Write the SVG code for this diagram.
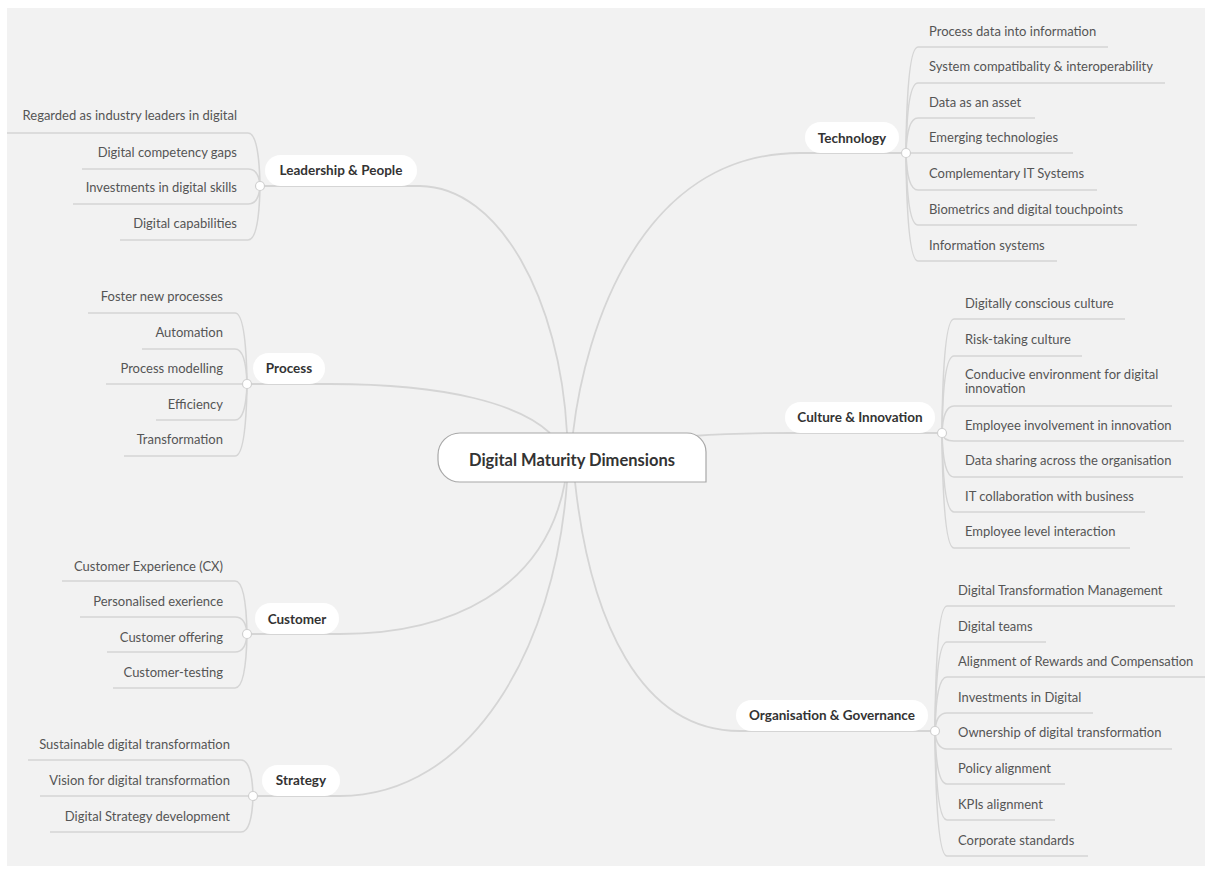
<svg xmlns="http://www.w3.org/2000/svg" width="1205" height="871" viewBox="0 0 1205 871">
<style>
.bg{fill:#f2f2f2}
.ln{fill:none;stroke:#d5d5d5;stroke-width:1.6}
.br{fill:none;stroke:#d5d5d5;stroke-width:1.8}
.jn{fill:#fff;stroke:#d0d0d0;stroke-width:1.2}
.pill{fill:#fff}
.tp{font-family:Lato,"Liberation Sans",sans-serif;font-weight:bold;font-size:13.5px;fill:#333;text-anchor:middle}
.ch{font-family:Lato,"Liberation Sans",sans-serif;font-size:13px;fill:#555}
.l{text-anchor:end}
.c{font-family:Lato,"Liberation Sans",sans-serif;font-weight:bold;font-size:16.5px;fill:#333;text-anchor:middle}
</style>
<rect class="bg" x="7" y="8" width="1198" height="858"/>
<g id="connectors">
<path class="br" d="M260,186 H420 C500,187 560,300 567,433"/>
<path class="br" d="M247,384 H330 C450,384 520,405 550,433"/>
<path class="br" d="M247,634 H340 C450,634 545,590 565,482"/>
<path class="br" d="M253,796 H340 C470,796 555,650 567,482"/>
<path class="br" d="M573,433 C585,330 640,153 800,153 H906"/>
<path class="br" d="M693,436 C720,434 760,433 790,433 H942"/>
<path class="br" d="M575,482 C590,620 640,731 740,731 H935"/>
<path class="ln" d="M7,133 H248 Q259,133 260,186"/>
<path class="ln" d="M82,169 H248 Q259,169 260,186"/>
<path class="ln" d="M73,204 H248 Q259,204 260,186"/>
<path class="ln" d="M120,240 H248 Q259,240 260,186"/>
<path class="ln" d="M88,313 H235 Q246,313 247,384"/>
<path class="ln" d="M142,349 H235 Q246,349 247,384"/>
<path class="ln" d="M106,384 H247"/>
<path class="ln" d="M156,420 H235 Q246,420 247,384"/>
<path class="ln" d="M124,456 H235 Q246,456 247,384"/>
<path class="ln" d="M62,581 H235 Q246,581 247,634"/>
<path class="ln" d="M80,617 H235 Q246,617 247,634"/>
<path class="ln" d="M107,652 H235 Q246,652 247,634"/>
<path class="ln" d="M113,688 H235 Q246,688 247,634"/>
<path class="ln" d="M28,760 H241 Q252,760 253,796"/>
<path class="ln" d="M40,796 H253"/>
<path class="ln" d="M50,832 H241 Q252,832 253,796"/>
<path class="ln" d="M906,153 Q907,47 918,47 H1108"/>
<path class="ln" d="M906,153 Q907,83 918,83 H1165"/>
<path class="ln" d="M906,153 Q907,118 918,118 H1035"/>
<path class="ln" d="M906,153 H1073"/>
<path class="ln" d="M906,153 Q907,190 918,190 H1097"/>
<path class="ln" d="M906,153 Q907,225 918,225 H1137"/>
<path class="ln" d="M906,153 Q907,261 918,261 H1057"/>
<path class="ln" d="M942,433 Q943,319 954,319 H1125"/>
<path class="ln" d="M942,433 Q943,356 954,356 H1082"/>
<path class="ln" d="M942,433 Q943,406 954,406 H1172"/>
<path class="ln" d="M942,433 Q943,441 954,441 H1184"/>
<path class="ln" d="M942,433 Q943,477 954,477 H1183"/>
<path class="ln" d="M942,433 Q943,512 954,512 H1145"/>
<path class="ln" d="M942,433 Q943,548 954,548 H1130"/>
<path class="ln" d="M935,731 Q936,606 947,606 H1175"/>
<path class="ln" d="M935,731 Q936,642 947,642 H1046"/>
<path class="ln" d="M935,731 Q936,677 947,677 H1205"/>
<path class="ln" d="M935,731 Q936,713 947,713 H1093"/>
<path class="ln" d="M935,731 Q936,749 947,749 H1172"/>
<path class="ln" d="M935,731 Q936,784 947,784 H1065"/>
<path class="ln" d="M935,731 Q936,820 947,820 H1055"/>
<path class="ln" d="M935,731 Q936,856 947,856 H1088"/>
</g>
<g id="center">
<path d="M460,433 H687 A19,19 0 0 1 706,452 V482 H460 A22,22 0 0 1 438,460 V455 A22,22 0 0 1 460,433 Z" fill="#fff" stroke="#a8a8a8" stroke-width="1.2"/>
<text class="c" x="572" y="466">Digital Maturity Dimensions</text>
</g>
<g id="leadership">
<rect class="pill" x="265" y="155" width="152" height="31" rx="15.5"/>
<text class="tp" x="341" y="175">Leadership &amp; People</text>
<circle class="jn" cx="260" cy="186" r="4.5"/>
<text class="ch l" x="237" y="120">Regarded as industry leaders in digital</text>
<text class="ch l" x="237" y="157">Digital competency gaps</text>
<text class="ch l" x="237" y="192">Investments in digital skills</text>
<text class="ch l" x="237" y="228">Digital capabilities</text>
</g>
<g id="process">
<rect class="pill" x="253" y="353" width="72" height="31" rx="15.5"/>
<text class="tp" x="289" y="373">Process</text>
<circle class="jn" cx="247" cy="384" r="4.5"/>
<text class="ch l" x="223" y="301">Foster new processes</text>
<text class="ch l" x="223" y="337">Automation</text>
<text class="ch l" x="223" y="373">Process modelling</text>
<text class="ch l" x="223" y="409">Efficiency</text>
<text class="ch l" x="223" y="444">Transformation</text>
</g>
<g id="customer">
<rect class="pill" x="255" y="603" width="84" height="31" rx="15.5"/>
<text class="tp" x="297" y="624">Customer</text>
<circle class="jn" cx="247" cy="634" r="4.5"/>
<text class="ch l" x="223" y="571">Customer Experience (CX)</text>
<text class="ch l" x="223" y="606">Personalised exerience</text>
<text class="ch l" x="223" y="642">Customer offering</text>
<text class="ch l" x="223" y="677">Customer-testing</text>
</g>
<g id="strategy">
<rect class="pill" x="262" y="765" width="78" height="31" rx="15.5"/>
<text class="tp" x="301" y="785">Strategy</text>
<circle class="jn" cx="253" cy="796" r="4.5"/>
<text class="ch l" x="230" y="749">Sustainable digital transformation</text>
<text class="ch l" x="230" y="785">Vision for digital transformation</text>
<text class="ch l" x="230" y="821">Digital Strategy development</text>
</g>
<g id="technology">
<rect class="pill" x="805" y="122" width="94" height="31" rx="15.5"/>
<text class="tp" x="852" y="143">Technology</text>
<circle class="jn" cx="906" cy="153" r="4.5"/>
<text class="ch" x="929" y="36">Process data into information</text>
<text class="ch" x="929" y="71">System compatibality &amp; interoperability</text>
<text class="ch" x="929" y="107">Data as an asset</text>
<text class="ch" x="929" y="142">Emerging technologies</text>
<text class="ch" x="929" y="178">Complementary IT Systems</text>
<text class="ch" x="929" y="214">Biometrics and digital touchpoints</text>
<text class="ch" x="929" y="250">Information systems</text>
</g>
<g id="culture">
<rect class="pill" x="785" y="402" width="150" height="31" rx="15.5"/>
<text class="tp" x="860" y="422">Culture &amp; Innovation</text>
<circle class="jn" cx="942" cy="433" r="4.5"/>
<text class="ch" x="965" y="308">Digitally conscious culture</text>
<text class="ch" x="965" y="344">Risk-taking culture</text>
<text class="ch" x="965" y="379">Conducive environment for digital</text>
<text class="ch" x="965" y="393">innovation</text>
<text class="ch" x="965" y="430">Employee involvement in innovation</text>
<text class="ch" x="965" y="465">Data sharing across the organisation</text>
<text class="ch" x="965" y="501">IT collaboration with business</text>
<text class="ch" x="965" y="536">Employee level interaction</text>
</g>
<g id="organisation">
<rect class="pill" x="736" y="700" width="192" height="31" rx="15.5"/>
<text class="tp" x="832" y="720">Organisation &amp; Governance</text>
<circle class="jn" cx="935" cy="731" r="4.5"/>
<text class="ch" x="958" y="595">Digital Transformation Management</text>
<text class="ch" x="958" y="631">Digital teams</text>
<text class="ch" x="958" y="666">Alignment of Rewards and Compensation</text>
<text class="ch" x="958" y="702">Investments in Digital</text>
<text class="ch" x="958" y="737">Ownership of digital transformation</text>
<text class="ch" x="958" y="773">Policy alignment</text>
<text class="ch" x="958" y="809">KPIs alignment</text>
<text class="ch" x="958" y="845">Corporate standards</text>
</g>
</svg>
